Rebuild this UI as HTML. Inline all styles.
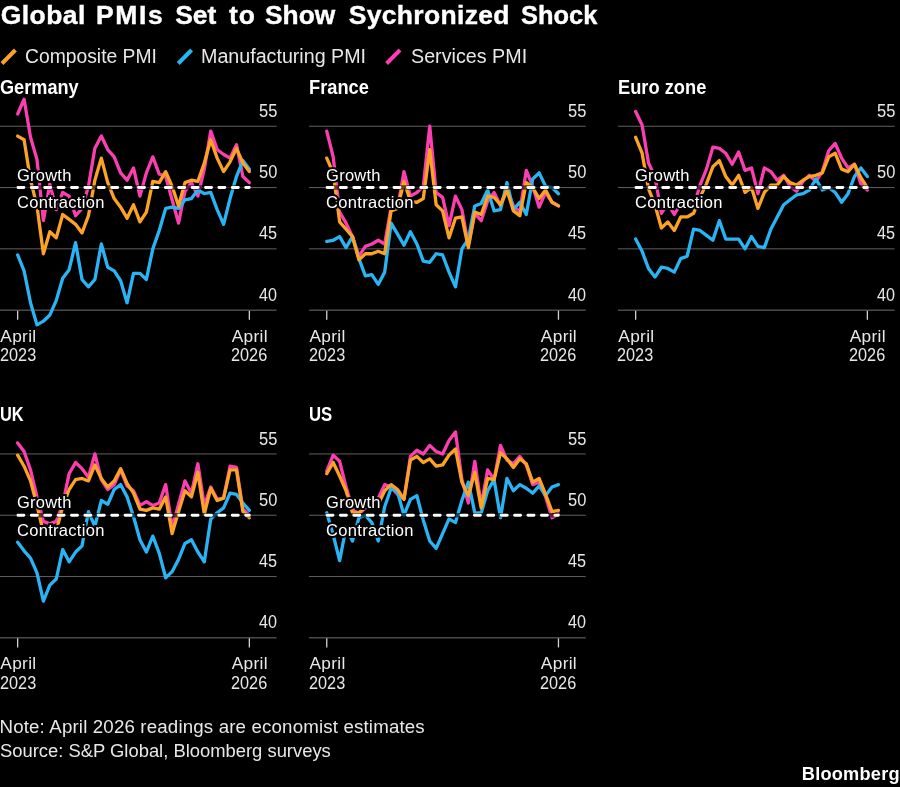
<!DOCTYPE html>
<html><head><meta charset="utf-8"><title>Global PMIs Set to Show Sychronized Shock</title>
<style>
html,body{margin:0;padding:0;background:#000;}
body{width:900px;height:787px;position:relative;overflow:hidden;font-family:"Liberation Sans",sans-serif;}
.wrap{position:absolute;left:0;top:0;width:900px;height:787px;will-change:transform;}
.chart{position:absolute;left:0;top:0;}
.t{position:absolute;white-space:nowrap;font-family:"Liberation Sans",sans-serif;}
.pt{-webkit-text-stroke:0.7px #fff;}
.ti{-webkit-text-stroke:0.4px #fff;}
.an{-webkit-text-stroke:4px #000;paint-order:stroke fill;}
</style></head><body>
<div class="wrap">
<svg class="chart" width="900" height="787" viewBox="0 0 900 787"><line x1="0.0" x2="276.6" y1="126.25" y2="126.25" stroke="#606060" stroke-width="1"/>
<line x1="0.0" x2="276.6" y1="187.55" y2="187.55" stroke="#606060" stroke-width="1"/>
<line x1="0.0" x2="276.6" y1="248.85" y2="248.85" stroke="#606060" stroke-width="1"/>
<line x1="0.0" x2="276.6" y1="310.15" y2="310.15" stroke="#707070" stroke-width="1"/>
<line x1="17.65" x2="17.65" y1="310.65" y2="319.75" stroke="#d2d2d2" stroke-width="1.3"/>
<line x1="249.35" x2="249.35" y1="310.65" y2="319.75" stroke="#d2d2d2" stroke-width="1.3"/>
<polyline points="17.65,113.99 24.09,99.28 30.52,137.28 36.96,159.35 43.39,220.65 49.83,183.87 56.27,209.62 62.70,192.45 69.14,196.13 75.57,215.75 82.01,208.39 88.45,186.32 94.88,148.32 101.32,136.06 107.76,149.54 114.19,156.90 120.63,172.84 127.06,180.19 133.50,167.93 139.94,196.13 146.37,172.84 152.81,156.90 159.24,174.06 165.68,176.52 172.12,199.81 178.55,223.10 184.99,191.23 191.43,182.65 197.86,196.13 204.30,169.16 210.73,131.15 217.17,149.54 223.61,154.45 230.04,158.13 236.48,144.64 242.91,176.52 249.35,182.65" fill="none" stroke="#FB3EB0" stroke-width="3.3" stroke-linejoin="round" stroke-linecap="round"/>
<polyline points="17.65,254.98 24.09,270.92 30.52,302.79 36.96,324.86 43.39,321.18 49.83,315.05 56.27,300.34 62.70,278.27 69.14,269.69 75.57,242.72 82.01,279.50 88.45,286.86 94.88,279.50 101.32,243.95 107.76,267.24 114.19,270.92 120.63,280.73 127.06,302.79 133.50,273.37 139.94,273.37 146.37,279.50 152.81,248.85 159.24,230.46 165.68,208.39 172.12,207.17 178.55,208.39 184.99,199.81 191.43,198.58 197.86,190.00 204.30,193.68 210.73,192.45 217.17,209.62 223.61,224.33 230.04,198.58 236.48,176.52 242.91,160.58 249.35,169.16" fill="none" stroke="#29B5F5" stroke-width="3.3" stroke-linejoin="round" stroke-linecap="round"/>
<polyline points="17.65,136.06 24.09,139.74 30.52,180.19 36.96,205.94 43.39,253.75 49.83,231.69 56.27,237.82 62.70,214.52 69.14,219.43 75.57,224.33 82.01,232.91 88.45,215.75 94.88,180.19 101.32,158.13 107.76,182.65 114.19,198.58 120.63,207.17 127.06,218.20 133.50,204.71 139.94,221.88 146.37,212.07 152.81,181.42 159.24,182.65 165.68,171.61 172.12,186.32 178.55,205.94 184.99,182.65 191.43,180.19 197.86,181.42 204.30,163.03 210.73,139.74 217.17,158.13 223.61,171.61 230.04,161.80 236.48,148.32 242.91,163.03 249.35,171.61" fill="none" stroke="#FCA326" stroke-width="3.3" stroke-linejoin="round" stroke-linecap="round"/>
<line x1="16.00" x2="251.20" y1="187.55" y2="187.55" stroke="#000" stroke-opacity="0.6" stroke-width="4.4"/>
<line x1="17.90" x2="249.30" y1="187.55" y2="187.55" stroke="#fff" stroke-width="2.9" stroke-dasharray="6.0 7.4" stroke-linecap="round"/>
<line x1="309.1" x2="585.7" y1="126.25" y2="126.25" stroke="#606060" stroke-width="1"/>
<line x1="309.1" x2="585.7" y1="187.55" y2="187.55" stroke="#606060" stroke-width="1"/>
<line x1="309.1" x2="585.7" y1="248.85" y2="248.85" stroke="#606060" stroke-width="1"/>
<line x1="309.1" x2="585.7" y1="310.15" y2="310.15" stroke="#707070" stroke-width="1"/>
<line x1="326.75" x2="326.75" y1="310.65" y2="319.75" stroke="#d2d2d2" stroke-width="1.3"/>
<line x1="558.45" x2="558.45" y1="310.65" y2="319.75" stroke="#d2d2d2" stroke-width="1.3"/>
<polyline points="326.75,131.15 333.19,156.90 339.62,212.07 346.06,223.10 352.49,236.59 358.93,256.21 365.37,246.40 371.80,243.95 378.24,240.27 384.68,243.95 391.11,207.17 397.55,208.39 403.98,171.61 410.42,196.13 416.86,192.45 423.29,186.32 429.73,126.25 436.16,192.45 442.60,197.36 449.04,225.56 455.47,196.13 461.91,209.62 468.34,245.17 474.78,213.30 481.22,220.65 487.65,201.04 494.09,192.45 500.52,205.94 506.96,190.00 513.40,205.94 519.83,212.07 526.27,170.39 532.71,186.32 539.14,207.17 545.58,192.45 552.01,202.26 558.45,205.94" fill="none" stroke="#FB3EB0" stroke-width="3.3" stroke-linejoin="round" stroke-linecap="round"/>
<polyline points="326.75,241.49 333.19,240.27 339.62,236.59 346.06,247.62 352.49,236.59 358.93,258.66 365.37,275.82 371.80,274.60 378.24,284.40 384.68,272.14 391.11,223.10 397.55,234.14 403.98,245.17 410.42,231.69 416.86,243.95 423.29,261.11 429.73,262.34 436.16,253.75 442.60,254.98 449.04,272.14 455.47,286.86 461.91,248.85 468.34,239.04 474.78,205.94 481.22,203.49 487.65,190.00 494.09,210.84 500.52,209.62 506.96,182.65 513.40,209.62 519.83,202.26 526.27,214.52 532.71,178.97 539.14,172.84 545.58,186.32 552.01,187.55 558.45,193.68" fill="none" stroke="#29B5F5" stroke-width="3.3" stroke-linejoin="round" stroke-linecap="round"/>
<polyline points="326.75,158.13 333.19,172.84 339.62,221.88 346.06,229.23 352.49,236.59 358.93,259.88 365.37,253.75 371.80,253.75 378.24,251.30 384.68,253.75 391.11,210.84 397.55,208.39 403.98,181.42 410.42,201.04 416.86,202.26 423.29,198.58 429.73,149.54 436.16,204.71 442.60,210.84 449.04,237.82 455.47,218.20 461.91,216.97 468.34,247.62 474.78,212.07 481.22,214.52 487.65,196.13 494.09,197.36 500.52,204.71 506.96,190.00 513.40,210.84 519.83,215.75 526.27,182.65 532.71,187.55 539.14,198.58 545.58,190.00 552.01,202.26 558.45,205.94" fill="none" stroke="#FCA326" stroke-width="3.3" stroke-linejoin="round" stroke-linecap="round"/>
<line x1="325.10" x2="560.30" y1="187.55" y2="187.55" stroke="#000" stroke-opacity="0.6" stroke-width="4.4"/>
<line x1="327.00" x2="558.40" y1="187.55" y2="187.55" stroke="#fff" stroke-width="2.9" stroke-dasharray="6.0 7.4" stroke-linecap="round"/>
<line x1="618.0" x2="894.6" y1="126.25" y2="126.25" stroke="#606060" stroke-width="1"/>
<line x1="618.0" x2="894.6" y1="187.55" y2="187.55" stroke="#606060" stroke-width="1"/>
<line x1="618.0" x2="894.6" y1="248.85" y2="248.85" stroke="#606060" stroke-width="1"/>
<line x1="618.0" x2="894.6" y1="310.15" y2="310.15" stroke="#707070" stroke-width="1"/>
<line x1="635.65" x2="635.65" y1="310.65" y2="319.75" stroke="#d2d2d2" stroke-width="1.3"/>
<line x1="867.35" x2="867.35" y1="310.65" y2="319.75" stroke="#d2d2d2" stroke-width="1.3"/>
<polyline points="635.65,111.54 642.09,125.02 648.52,163.03 654.96,176.52 661.39,213.30 667.83,203.49 674.27,214.52 680.70,203.49 687.14,202.26 693.57,207.17 700.01,185.10 706.45,169.16 712.88,147.09 719.32,148.32 725.76,153.22 732.19,164.26 738.63,152.00 745.06,170.39 751.50,167.93 757.94,193.68 764.37,167.93 770.81,171.61 777.24,180.19 783.68,175.29 790.12,186.32 796.55,191.23 802.99,181.42 809.42,175.29 815.86,181.42 822.30,171.61 828.73,150.77 835.17,143.41 841.61,158.13 848.04,167.93 854.48,164.26 860.91,183.87 867.35,190.00" fill="none" stroke="#FB3EB0" stroke-width="3.3" stroke-linejoin="round" stroke-linecap="round"/>
<polyline points="635.65,239.04 642.09,251.30 648.52,268.47 654.96,277.05 661.39,267.24 667.83,268.47 674.27,272.14 680.70,258.66 687.14,256.21 693.57,229.23 700.01,230.46 706.45,235.36 712.88,240.27 719.32,220.65 725.76,239.04 732.19,239.04 738.63,239.04 745.06,248.85 751.50,236.59 757.94,246.40 764.37,247.62 770.81,229.23 777.24,216.97 783.68,204.71 790.12,199.81 796.55,194.91 802.99,193.68 809.42,190.00 815.86,178.97 822.30,190.00 828.73,187.55 835.17,192.45 841.61,202.26 848.04,193.68 854.48,176.52 860.91,167.93 867.35,176.52" fill="none" stroke="#29B5F5" stroke-width="3.3" stroke-linejoin="round" stroke-linecap="round"/>
<polyline points="635.65,137.28 642.09,153.22 648.52,188.78 654.96,204.71 661.39,228.01 667.83,221.88 674.27,230.46 680.70,216.97 687.14,216.97 693.57,213.30 700.01,197.36 706.45,183.87 712.88,166.71 719.32,160.58 725.76,176.52 732.19,185.10 738.63,175.29 745.06,192.45 751.50,187.55 757.94,208.39 764.37,192.45 770.81,185.10 777.24,185.10 783.68,176.52 790.12,182.65 796.55,185.10 802.99,180.19 809.42,176.52 815.86,175.29 822.30,172.84 828.73,156.90 835.17,153.22 841.61,169.16 848.04,171.61 854.48,164.26 860.91,177.74 867.35,187.55" fill="none" stroke="#FCA326" stroke-width="3.3" stroke-linejoin="round" stroke-linecap="round"/>
<line x1="634.00" x2="869.20" y1="187.55" y2="187.55" stroke="#000" stroke-opacity="0.6" stroke-width="4.4"/>
<line x1="635.90" x2="867.30" y1="187.55" y2="187.55" stroke="#fff" stroke-width="2.9" stroke-dasharray="6.0 7.4" stroke-linecap="round"/>
<line x1="0.0" x2="276.6" y1="453.95" y2="453.95" stroke="#606060" stroke-width="1"/>
<line x1="0.0" x2="276.6" y1="515.25" y2="515.25" stroke="#606060" stroke-width="1"/>
<line x1="0.0" x2="276.6" y1="576.55" y2="576.55" stroke="#606060" stroke-width="1"/>
<line x1="0.0" x2="276.6" y1="637.85" y2="637.85" stroke="#707070" stroke-width="1"/>
<line x1="17.65" x2="17.65" y1="638.35" y2="647.45" stroke="#d2d2d2" stroke-width="1.3"/>
<line x1="249.35" x2="249.35" y1="638.35" y2="647.45" stroke="#d2d2d2" stroke-width="1.3"/>
<polyline points="17.65,442.92 24.09,451.50 30.52,469.89 36.96,496.86 43.39,521.38 49.83,523.83 56.27,521.38 62.70,504.22 69.14,473.57 75.57,462.53 82.01,468.66 88.45,477.24 94.88,453.95 101.32,479.70 107.76,489.50 114.19,484.60 120.63,469.89 127.06,485.83 133.50,490.73 139.94,505.44 146.37,501.76 152.81,505.44 159.24,502.99 165.68,484.60 172.12,527.51 178.55,504.22 184.99,480.92 191.43,493.18 197.86,463.76 204.30,505.44 210.73,487.05 217.17,499.31 223.61,498.09 230.04,466.21 236.48,467.44 242.91,509.12 249.35,515.25" fill="none" stroke="#FB3EB0" stroke-width="3.3" stroke-linejoin="round" stroke-linecap="round"/>
<polyline points="17.65,542.22 24.09,550.80 30.52,558.16 36.96,572.87 43.39,601.07 49.83,585.13 56.27,579.00 62.70,549.58 69.14,561.84 75.57,552.03 82.01,545.90 88.45,511.57 94.88,526.28 101.32,500.54 107.76,504.22 114.19,489.50 120.63,484.60 127.06,496.86 133.50,516.48 139.94,539.77 146.37,552.03 152.81,536.09 159.24,553.26 165.68,577.78 172.12,571.65 178.55,559.39 184.99,543.45 191.43,539.77 197.86,552.03 204.30,561.84 210.73,518.93 217.17,512.80 223.61,507.89 230.04,493.18 236.48,494.41 242.91,502.99 249.35,510.35" fill="none" stroke="#29B5F5" stroke-width="3.3" stroke-linejoin="round" stroke-linecap="round"/>
<polyline points="17.65,455.18 24.09,466.21 30.52,480.92 36.96,505.44 43.39,532.41 49.83,533.64 56.27,531.19 62.70,506.67 69.14,489.50 75.57,479.70 82.01,478.47 88.45,480.92 94.88,464.98 101.32,478.47 107.76,487.05 114.19,480.92 120.63,468.66 127.06,483.37 133.50,493.18 139.94,509.12 146.37,510.35 152.81,507.89 159.24,509.12 165.68,496.86 172.12,533.64 178.55,511.57 184.99,490.73 191.43,496.86 197.86,472.34 204.30,514.02 210.73,488.28 217.17,500.54 223.61,498.09 230.04,469.89 236.48,469.89 242.91,511.57 249.35,517.70" fill="none" stroke="#FCA326" stroke-width="3.3" stroke-linejoin="round" stroke-linecap="round"/>
<line x1="16.00" x2="251.20" y1="515.25" y2="515.25" stroke="#000" stroke-opacity="0.6" stroke-width="4.4"/>
<line x1="17.90" x2="249.30" y1="515.25" y2="515.25" stroke="#fff" stroke-width="2.9" stroke-dasharray="6.0 7.4" stroke-linecap="round"/>
<line x1="309.1" x2="585.7" y1="453.95" y2="453.95" stroke="#606060" stroke-width="1"/>
<line x1="309.1" x2="585.7" y1="515.25" y2="515.25" stroke="#606060" stroke-width="1"/>
<line x1="309.1" x2="585.7" y1="576.55" y2="576.55" stroke="#606060" stroke-width="1"/>
<line x1="309.1" x2="585.7" y1="637.85" y2="637.85" stroke="#707070" stroke-width="1"/>
<line x1="326.75" x2="326.75" y1="638.35" y2="647.45" stroke="#d2d2d2" stroke-width="1.3"/>
<line x1="558.45" x2="558.45" y1="638.35" y2="647.45" stroke="#d2d2d2" stroke-width="1.3"/>
<polyline points="326.75,471.11 333.19,455.18 339.62,461.31 346.06,487.05 352.49,509.12 358.93,514.02 365.37,507.89 371.80,505.44 378.24,498.09 384.68,484.60 391.11,487.05 397.55,494.41 403.98,499.31 410.42,456.40 416.86,450.27 423.29,453.95 429.73,445.37 436.16,451.50 442.60,453.95 449.04,440.46 455.47,431.88 461.91,479.70 468.34,502.99 474.78,461.31 481.22,505.44 487.65,469.89 494.09,479.70 500.52,445.37 506.96,460.08 513.40,463.76 519.83,456.40 526.27,464.98 532.71,484.60 539.14,482.15 545.58,496.86 552.01,517.70 558.45,514.02" fill="none" stroke="#FB3EB0" stroke-width="3.3" stroke-linejoin="round" stroke-linecap="round"/>
<polyline points="326.75,512.80 333.19,534.87 339.62,560.61 346.06,527.51 352.49,541.00 358.93,517.70 365.37,515.25 371.80,522.61 378.24,541.00 384.68,506.67 391.11,488.28 397.55,491.96 403.98,515.25 410.42,499.31 416.86,495.63 423.29,520.15 429.73,541.00 436.16,548.35 442.60,533.64 449.04,518.93 455.47,522.61 461.91,500.54 468.34,482.15 474.78,512.80 481.22,512.80 487.65,490.73 494.09,479.70 500.52,517.70 506.96,478.47 513.40,490.73 519.83,484.60 526.27,488.28 532.71,493.18 539.14,485.83 545.58,495.63 552.01,487.05 558.45,484.60" fill="none" stroke="#29B5F5" stroke-width="3.3" stroke-linejoin="round" stroke-linecap="round"/>
<polyline points="326.75,473.57 333.19,462.53 339.62,476.02 346.06,490.73 352.49,512.80 358.93,512.80 365.37,506.67 371.80,506.67 378.24,504.22 384.68,490.73 391.11,484.60 397.55,489.50 403.98,499.31 410.42,460.08 416.86,456.40 423.29,462.53 429.73,458.85 436.16,466.21 442.60,464.98 449.04,455.18 455.47,449.05 461.91,482.15 468.34,495.63 474.78,472.34 481.22,507.89 487.65,478.47 494.09,479.70 500.52,452.72 506.96,458.85 513.40,467.44 519.83,458.85 526.27,463.76 532.71,482.15 539.14,478.47 545.58,494.41 552.01,511.57 558.45,510.35" fill="none" stroke="#FCA326" stroke-width="3.3" stroke-linejoin="round" stroke-linecap="round"/>
<line x1="325.10" x2="560.30" y1="515.25" y2="515.25" stroke="#000" stroke-opacity="0.6" stroke-width="4.4"/>
<line x1="327.00" x2="558.40" y1="515.25" y2="515.25" stroke="#fff" stroke-width="2.9" stroke-dasharray="6.0 7.4" stroke-linecap="round"/></svg>
<svg class="chart" width="900" height="787" viewBox="0 0 900 787"><line x1="2.0" y1="63.5" x2="15.4" y2="50" stroke="#FCA326" stroke-width="4"/><line x1="178.2" y1="63.5" x2="191.6" y2="50" stroke="#29B5F5" stroke-width="4"/><line x1="386.6" y1="63.5" x2="400.0" y2="50" stroke="#FB3EB0" stroke-width="4"/></svg>
<div class="t ti" style="left:0.81px;top:-1px;font-size:26.5px;line-height:32px;letter-spacing:0.415px;font-weight:bold;color:#fff;transform:scale(1.0000,0.9400);transform-origin:0 25px;">Global</div>
<div class="t ti" style="left:95.95px;top:-1px;font-size:26.5px;line-height:32px;letter-spacing:1.653px;font-weight:bold;color:#fff;transform:scale(1.0000,0.9400);transform-origin:0 25px;">PMIs</div>
<div class="t ti" style="left:175.16px;top:-1px;font-size:26.5px;line-height:32px;letter-spacing:0.013px;font-weight:bold;color:#fff;transform:scale(1.0000,0.9400);transform-origin:0 25px;">Set</div>
<div class="t ti" style="left:228.88px;top:-1px;font-size:26.5px;line-height:32px;letter-spacing:1.135px;font-weight:bold;color:#fff;transform:scale(1.0000,0.9400);transform-origin:0 25px;">to</div>
<div class="t ti" style="left:265.46px;top:-1px;font-size:26.5px;line-height:32px;font-weight:bold;color:#fff;transform:scale(0.9945,0.9400);transform-origin:0 25px;">Show</div>
<div class="t ti" style="left:348.66px;top:-1px;font-size:26.5px;line-height:32px;letter-spacing:0.332px;font-weight:bold;color:#fff;transform:scale(1.0000,0.9400);transform-origin:0 25px;">Sychronized</div>
<div class="t ti" style="left:521.49px;top:-1px;font-size:26.5px;line-height:32px;font-weight:bold;color:#fff;transform:scale(0.9589,0.9400);transform-origin:0 25px;">Shock</div>
<div class="t " style="left:25.43px;top:44px;font-size:20px;line-height:24px;font-weight:normal;color:#e8e8e8;transform:scale(0.9650,1.0000);transform-origin:0 19px;">Composite PMI</div>
<div class="t " style="left:201.39px;top:44px;font-size:20px;line-height:24px;font-weight:normal;color:#e8e8e8;transform:scale(0.9831,1.0000);transform-origin:0 19px;">Manufacturing PMI</div>
<div class="t " style="left:410.71px;top:44px;font-size:20px;line-height:24px;font-weight:normal;color:#e8e8e8;transform:scale(0.9856,1.0000);transform-origin:0 19px;">Services PMI</div>
<div class="t " style="left:-0.04px;top:74px;font-size:20.5px;line-height:25px;font-weight:bold;color:#fff;transform:scale(0.8849,1.0000);transform-origin:0 20px;">Germany</div>
<div class="t " style="left:258.64px;top:101px;font-size:17.6px;line-height:21px;font-weight:normal;color:#e8e8e8;transform:scale(0.9369,1.0000);transform-origin:0 16px;">55</div>
<div class="t " style="left:258.64px;top:162px;font-size:17.6px;line-height:21px;font-weight:normal;color:#e8e8e8;transform:scale(0.9341,1.0000);transform-origin:0 16px;">50</div>
<div class="t " style="left:258.94px;top:223px;font-size:17.6px;line-height:21px;font-weight:normal;color:#e8e8e8;transform:scale(0.9208,1.0000);transform-origin:0 16px;">45</div>
<div class="t " style="left:258.94px;top:285px;font-size:17.6px;line-height:21px;font-weight:normal;color:#e8e8e8;transform:scale(0.9182,1.0000);transform-origin:0 16px;">40</div>
<div class="t " style="left:0.37px;top:326px;font-size:17.3px;line-height:21px;letter-spacing:0.294px;font-weight:normal;color:#e8e8e8;">April</div>
<div class="t " style="left:-0.51px;top:345px;font-size:17.8px;line-height:21px;font-weight:normal;color:#e8e8e8;transform:scale(0.9148,1.0000);transform-origin:0 16px;">2023</div>
<div class="t " style="left:231.77px;top:326px;font-size:17.3px;line-height:21px;letter-spacing:0.319px;font-weight:normal;color:#e8e8e8;">April</div>
<div class="t " style="left:230.99px;top:345px;font-size:17.8px;line-height:21px;font-weight:normal;color:#e8e8e8;transform:scale(0.9148,1.0000);transform-origin:0 16px;">2026</div>
<div class="t an" style="left:16.98px;top:165px;font-size:16.5px;line-height:20px;letter-spacing:0.240px;font-weight:normal;color:#fff;">Growth</div>
<div class="t an" style="left:16.98px;top:192px;font-size:16.5px;line-height:20px;letter-spacing:0.300px;font-weight:normal;color:#fff;">Contraction</div>
<div class="t " style="left:308.80px;top:74px;font-size:20.5px;line-height:25px;font-weight:bold;color:#fff;transform:scale(0.8900,1.0000);transform-origin:0 20px;">France</div>
<div class="t " style="left:567.74px;top:101px;font-size:17.6px;line-height:21px;font-weight:normal;color:#e8e8e8;transform:scale(0.9369,1.0000);transform-origin:0 16px;">55</div>
<div class="t " style="left:567.74px;top:162px;font-size:17.6px;line-height:21px;font-weight:normal;color:#e8e8e8;transform:scale(0.9341,1.0000);transform-origin:0 16px;">50</div>
<div class="t " style="left:568.04px;top:223px;font-size:17.6px;line-height:21px;font-weight:normal;color:#e8e8e8;transform:scale(0.9208,1.0000);transform-origin:0 16px;">45</div>
<div class="t " style="left:568.04px;top:285px;font-size:17.6px;line-height:21px;font-weight:normal;color:#e8e8e8;transform:scale(0.9182,1.0000);transform-origin:0 16px;">40</div>
<div class="t " style="left:309.47px;top:326px;font-size:17.3px;line-height:21px;letter-spacing:0.294px;font-weight:normal;color:#e8e8e8;">April</div>
<div class="t " style="left:308.59px;top:345px;font-size:17.8px;line-height:21px;font-weight:normal;color:#e8e8e8;transform:scale(0.9148,1.0000);transform-origin:0 16px;">2023</div>
<div class="t " style="left:540.87px;top:326px;font-size:17.3px;line-height:21px;letter-spacing:0.319px;font-weight:normal;color:#e8e8e8;">April</div>
<div class="t " style="left:540.09px;top:345px;font-size:17.8px;line-height:21px;font-weight:normal;color:#e8e8e8;transform:scale(0.9148,1.0000);transform-origin:0 16px;">2026</div>
<div class="t an" style="left:326.08px;top:165px;font-size:16.5px;line-height:20px;letter-spacing:0.240px;font-weight:normal;color:#fff;">Growth</div>
<div class="t an" style="left:326.08px;top:192px;font-size:16.5px;line-height:20px;letter-spacing:0.300px;font-weight:normal;color:#fff;">Contraction</div>
<div class="t " style="left:617.59px;top:74px;font-size:20.5px;line-height:25px;font-weight:bold;color:#fff;transform:scale(0.8915,1.0000);transform-origin:0 20px;">Euro zone</div>
<div class="t " style="left:876.64px;top:101px;font-size:17.6px;line-height:21px;font-weight:normal;color:#e8e8e8;transform:scale(0.9369,1.0000);transform-origin:0 16px;">55</div>
<div class="t " style="left:876.64px;top:162px;font-size:17.6px;line-height:21px;font-weight:normal;color:#e8e8e8;transform:scale(0.9341,1.0000);transform-origin:0 16px;">50</div>
<div class="t " style="left:876.94px;top:223px;font-size:17.6px;line-height:21px;font-weight:normal;color:#e8e8e8;transform:scale(0.9208,1.0000);transform-origin:0 16px;">45</div>
<div class="t " style="left:876.94px;top:285px;font-size:17.6px;line-height:21px;font-weight:normal;color:#e8e8e8;transform:scale(0.9182,1.0000);transform-origin:0 16px;">40</div>
<div class="t " style="left:618.37px;top:326px;font-size:17.3px;line-height:21px;letter-spacing:0.294px;font-weight:normal;color:#e8e8e8;">April</div>
<div class="t " style="left:617.49px;top:345px;font-size:17.8px;line-height:21px;font-weight:normal;color:#e8e8e8;transform:scale(0.9148,1.0000);transform-origin:0 16px;">2023</div>
<div class="t " style="left:849.77px;top:326px;font-size:17.3px;line-height:21px;letter-spacing:0.319px;font-weight:normal;color:#e8e8e8;">April</div>
<div class="t " style="left:848.99px;top:345px;font-size:17.8px;line-height:21px;font-weight:normal;color:#e8e8e8;transform:scale(0.9148,1.0000);transform-origin:0 16px;">2026</div>
<div class="t an" style="left:634.97px;top:165px;font-size:16.5px;line-height:20px;letter-spacing:0.240px;font-weight:normal;color:#fff;">Growth</div>
<div class="t an" style="left:634.97px;top:192px;font-size:16.5px;line-height:20px;letter-spacing:0.300px;font-weight:normal;color:#fff;">Contraction</div>
<div class="t " style="left:0.32px;top:401px;font-size:20.5px;line-height:25px;font-weight:bold;color:#fff;transform:scale(0.7982,1.0000);transform-origin:0 20px;">UK</div>
<div class="t " style="left:258.64px;top:429px;font-size:17.6px;line-height:21px;font-weight:normal;color:#e8e8e8;transform:scale(0.9369,1.0000);transform-origin:0 16px;">55</div>
<div class="t " style="left:258.64px;top:490px;font-size:17.6px;line-height:21px;font-weight:normal;color:#e8e8e8;transform:scale(0.9341,1.0000);transform-origin:0 16px;">50</div>
<div class="t " style="left:258.94px;top:551px;font-size:17.6px;line-height:21px;font-weight:normal;color:#e8e8e8;transform:scale(0.9208,1.0000);transform-origin:0 16px;">45</div>
<div class="t " style="left:258.94px;top:612px;font-size:17.6px;line-height:21px;font-weight:normal;color:#e8e8e8;transform:scale(0.9182,1.0000);transform-origin:0 16px;">40</div>
<div class="t " style="left:0.37px;top:653px;font-size:17.3px;line-height:21px;letter-spacing:0.294px;font-weight:normal;color:#e8e8e8;">April</div>
<div class="t " style="left:-0.51px;top:673px;font-size:17.8px;line-height:21px;font-weight:normal;color:#e8e8e8;transform:scale(0.9148,1.0000);transform-origin:0 16px;">2023</div>
<div class="t " style="left:231.77px;top:653px;font-size:17.3px;line-height:21px;letter-spacing:0.319px;font-weight:normal;color:#e8e8e8;">April</div>
<div class="t " style="left:230.99px;top:673px;font-size:17.8px;line-height:21px;font-weight:normal;color:#e8e8e8;transform:scale(0.9148,1.0000);transform-origin:0 16px;">2026</div>
<div class="t an" style="left:16.98px;top:492px;font-size:16.5px;line-height:20px;letter-spacing:0.240px;font-weight:normal;color:#fff;">Growth</div>
<div class="t an" style="left:16.98px;top:520px;font-size:16.5px;line-height:20px;letter-spacing:0.300px;font-weight:normal;color:#fff;">Contraction</div>
<div class="t " style="left:308.70px;top:401px;font-size:20.5px;line-height:25px;font-weight:bold;color:#fff;transform:scale(0.8168,1.0000);transform-origin:0 20px;">US</div>
<div class="t " style="left:567.74px;top:429px;font-size:17.6px;line-height:21px;font-weight:normal;color:#e8e8e8;transform:scale(0.9369,1.0000);transform-origin:0 16px;">55</div>
<div class="t " style="left:567.74px;top:490px;font-size:17.6px;line-height:21px;font-weight:normal;color:#e8e8e8;transform:scale(0.9341,1.0000);transform-origin:0 16px;">50</div>
<div class="t " style="left:568.04px;top:551px;font-size:17.6px;line-height:21px;font-weight:normal;color:#e8e8e8;transform:scale(0.9208,1.0000);transform-origin:0 16px;">45</div>
<div class="t " style="left:568.04px;top:612px;font-size:17.6px;line-height:21px;font-weight:normal;color:#e8e8e8;transform:scale(0.9182,1.0000);transform-origin:0 16px;">40</div>
<div class="t " style="left:309.47px;top:653px;font-size:17.3px;line-height:21px;letter-spacing:0.294px;font-weight:normal;color:#e8e8e8;">April</div>
<div class="t " style="left:308.59px;top:673px;font-size:17.8px;line-height:21px;font-weight:normal;color:#e8e8e8;transform:scale(0.9148,1.0000);transform-origin:0 16px;">2023</div>
<div class="t " style="left:540.87px;top:653px;font-size:17.3px;line-height:21px;letter-spacing:0.319px;font-weight:normal;color:#e8e8e8;">April</div>
<div class="t " style="left:540.09px;top:673px;font-size:17.8px;line-height:21px;font-weight:normal;color:#e8e8e8;transform:scale(0.9148,1.0000);transform-origin:0 16px;">2026</div>
<div class="t an" style="left:326.08px;top:492px;font-size:16.5px;line-height:20px;letter-spacing:0.240px;font-weight:normal;color:#fff;">Growth</div>
<div class="t an" style="left:326.08px;top:520px;font-size:16.5px;line-height:20px;letter-spacing:0.300px;font-weight:normal;color:#fff;">Contraction</div>
<div class="t " style="left:-0.53px;top:716px;font-size:18.7px;line-height:22px;letter-spacing:0.159px;font-weight:normal;color:#e8e8e8;">Note: April 2026 readings are economist estimates</div>
<div class="t " style="left:0.17px;top:740px;font-size:18.7px;line-height:22px;font-weight:normal;color:#e8e8e8;transform:scale(0.9839,1.0000);transform-origin:0 17px;">Source: S&amp;P Global, Bloomberg surveys</div>
<div class="t " style="left:801.80px;top:763px;font-size:18.2px;line-height:22px;letter-spacing:0.220px;font-weight:bold;color:#fff;">Bloomberg</div>
</div>
</body></html>
